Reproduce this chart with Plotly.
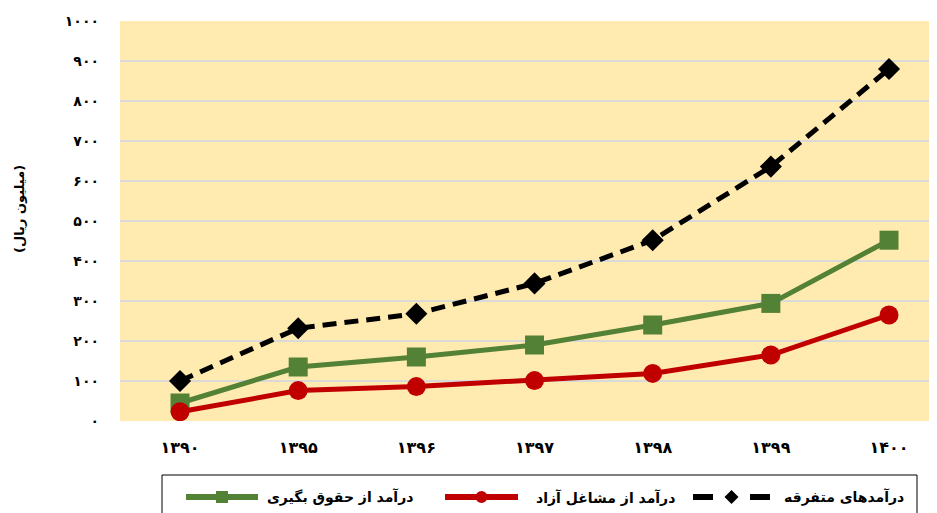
import plotly.graph_objects as go

categories = ["۱۳۹۰", "۱۳۹۵", "۱۳۹۶", "۱۳۹۷", "۱۳۹۸", "۱۳۹۹", "۱۴۰۰"]
salary_income = [45, 135, 160, 190, 240, 294, 452]
freelance_income = [23, 76, 86, 101, 119, 165, 265]
misc_income = [100, 232, 268, 344, 452, 636, 880]
series_names = ["درآمد از حقوق بگیری", "درآمد از مشاغل آزاد", "درآمدهای متفرقه"]
y_tick_values = [0, 100, 200, 300, 400, 500, 600, 700, 800, 900, 1000]
y_tick_labels = ["۰", "۱۰۰", "۲۰۰", "۳۰۰", "۴۰۰", "۵۰۰", "۶۰۰", "۷۰۰", "۸۰۰", "۹۰۰", "۱۰۰۰"]
y_title = "(میلیون ریال)"

FONT = "DejaVu Sans"
GREEN, RED, BLACK = "#538135", "#C00000", "#000000"

# page offset of the browser body (8px) is compensated in the margins
PLOT_L, PLOT_T, PLOT_W, PLOT_H = 120, 21, 817, 400


def xp(px):
    return (px - PLOT_L) / PLOT_W


def yp(py):
    return (PLOT_T + PLOT_H - py) / PLOT_H


fig = go.Figure()
styles = [
    (salary_income, GREEN, "square", 19, "solid"),
    (freelance_income, RED, "circle", 19, "solid"),
    (misc_income, BLACK, "diamond", 17, "14px,8px"),
]
for name, (vals, col, sym, sz, dash) in zip(series_names, styles):
    fig.add_trace(go.Scatter(
        x=categories, y=vals, name=name, mode="lines+markers",
        line=dict(color=col, width=5, dash=dash),
        marker=dict(symbol=sym, size=sz, color=col),
        showlegend=False,
    ))

shapes = []
annotations = []

# legend box
shapes.append(dict(type="rect", xref="paper", yref="paper",
                   x0=xp(162), x1=xp(917), y0=yp(540), y1=yp(475),
                   line=dict(color="black", width=1), fillcolor="white", layer="above"))

LY = 497
legend_items = [
    (186, 258, 340, GREEN, "square"),
    (445, 518, 605, RED, "circle"),
    (693, 770, 844, BLACK, "diamond"),
]
for name, (s0, s1, tx, col, sym) in zip(series_names, legend_items):
    cx = (s0 + s1) / 2
    if sym == "diamond":
        for a, b in [(s0, s0 + 20), (s1 - 20, s1)]:
            shapes.append(dict(type="line", xref="paper", yref="paper",
                               x0=xp(a), x1=xp(b), y0=yp(LY), y1=yp(LY),
                               line=dict(color=col, width=6), layer="above"))
        r = 7
        path = (f"M {xp(cx - r)},{yp(LY)} L {xp(cx)},{yp(LY - r)} "
                f"L {xp(cx + r)},{yp(LY)} L {xp(cx)},{yp(LY + r)} Z")
        shapes.append(dict(type="path", xref="paper", yref="paper", path=path,
                           fillcolor=col, line=dict(color=col, width=0), layer="above"))
    else:
        shapes.append(dict(type="line", xref="paper", yref="paper",
                           x0=xp(s0), x1=xp(s1), y0=yp(LY), y1=yp(LY),
                           line=dict(color=col, width=6), layer="above"))
        r = 6
        shapes.append(dict(type="rect" if sym == "square" else "circle",
                           xref="paper", yref="paper",
                           x0=xp(cx - r), x1=xp(cx + r), y0=yp(LY + r), y1=yp(LY - r),
                           fillcolor=col, line=dict(color=col, width=0), layer="above"))
    annotations.append(dict(
        text=name, xref="paper", yref="paper", x=xp(tx), y=yp(LY),
        xanchor="center", yanchor="middle", showarrow=False,
        font=dict(family=FONT, size=14, color="black", weight="bold"),
    ))

annotations.append(dict(
    text=y_title, xref="paper", yref="paper", x=xp(19), y=yp(209),
    xanchor="center", yanchor="middle", textangle=-90, showarrow=False,
    font=dict(family=FONT, size=13, color="black", weight="bold"),
))

fig.update_layout(
    width=929, height=505,
    margin=dict(l=112, r=0, t=13, b=92),
    paper_bgcolor="white",
    plot_bgcolor="#FFEBAF",
    font=dict(family=FONT, size=13, color="black"),
    showlegend=False,
    shapes=shapes,
    annotations=annotations,
)
fig.update_xaxes(
    type="category", range=[-0.508, 6.406], showgrid=False, zeroline=False,
    showline=False, ticks="", ticklabelstandoff=15,
    tickfont=dict(family=FONT, size=16, color="black", weight="bold"),
)
fig.update_yaxes(
    range=[0, 1000], tickvals=y_tick_values, ticktext=y_tick_labels,
    showgrid=True, gridcolor="#D9D9D9", gridwidth=2, zeroline=False,
    showline=False, ticks="", ticklabelstandoff=20,
    tickfont=dict(family=FONT, size=14, color="black", weight="bold"),
)

fig.write_html("out.html")
